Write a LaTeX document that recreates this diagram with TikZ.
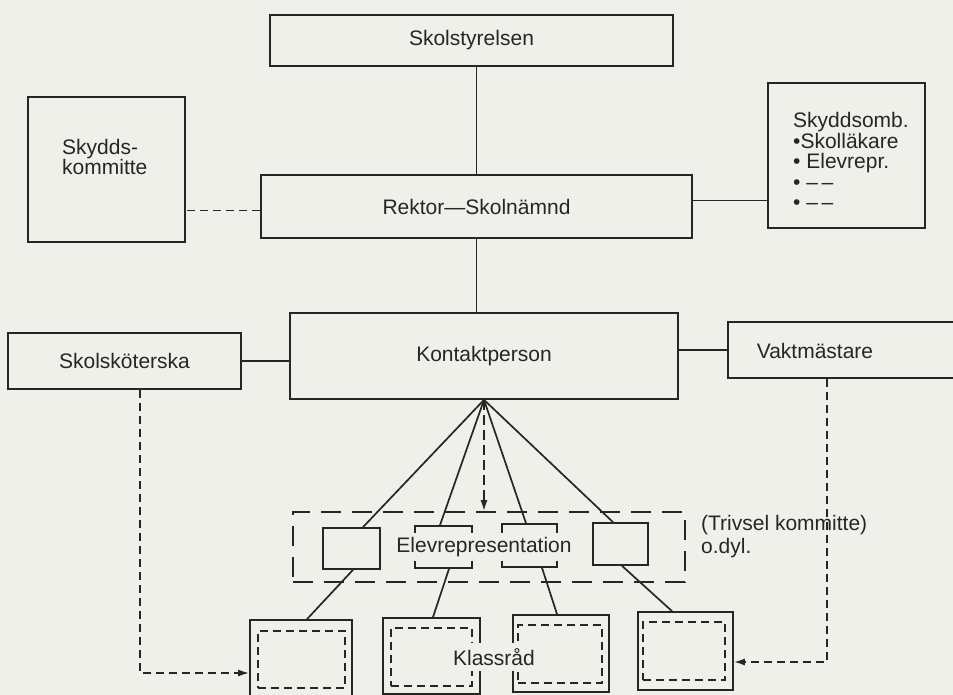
\documentclass[tikz,border=0pt]{standalone}
\usepackage{fontspec}
\setmainfont{Liberation Sans}
\usetikzlibrary{arrows.meta}
\definecolor{paper}{RGB}{240,240,234}
\definecolor{ink}{RGB}{38,38,38}
\begin{document}
\begin{tikzpicture}[x=1pt,y=-1pt,line width=1.7pt,color=ink,>={Latex[length=11pt,width=7pt]},
  every node/.style={font=\fontsize{21}{20.5}\selectfont},
  box/.style={draw,inner sep=0pt},
  boxin/.style={draw,inner sep=0pt,line width=1.5pt,dash pattern=on 8pt off 5pt},
  link/.style={dash pattern=on 8pt off 5pt},
  frame/.style={draw,inner sep=0pt,dash pattern=on 20pt off 11pt},
  mask/.style={fill=paper,inner xsep=2pt,inner ysep=0pt}]
  \useasboundingbox (0,0) rectangle (953,695);
  \fill[paper] (0,0) rectangle (953,695);
  \node[box,minimum width=403pt,minimum height=51pt] (styr) at (471.5,40.5) {Skolstyrelsen};
  \node[box,minimum width=431pt,minimum height=63pt] (rektor) at (476.5,206.5) {Rektor—Skolnämnd};
  \node[box,minimum width=157pt,minimum height=145pt] (skydd) at (106.5,169.5) {};
  \node[anchor=west,align=left] (skyddtxt) at (58,157) {Skydds-\\kommitte};
  \node[box,minimum width=157pt,minimum height=145pt] (somb) at (846.5,155.5) {};
  \node[anchor=west,align=left] (sombtxt) at (789,161) {Skyddsomb.\\•Skolläkare\\• Elevrepr.\\• –\,–\\• –\,–};
  \node[box,minimum width=388pt,minimum height=86pt] (kontakt) at (484,356) {Kontaktperson};
  \node[box,minimum width=233pt,minimum height=56pt] (skol) at (124.5,361) {Skolsköterska};
  \node[box,minimum width=232pt,minimum height=56pt] (vakt) at (844,350) {};
  \node (vakttxt) at (815,351) {Vaktmästare};
  \node[frame,minimum width=392pt,minimum height=70pt] (elevgrp) at (489,547) {};
  \node[box,minimum width=57pt,minimum height=41pt] (repa) at (351.5,548.5) {};
  \node[box,minimum width=57pt,minimum height=42pt] (repb) at (443.5,547) {};
  \node[box,minimum width=55pt,minimum height=43pt] (repc) at (529.5,545.5) {};
  \node[box,minimum width=55pt,minimum height=42pt] (repd) at (620.5,544) {};
  \node[mask,minimum height=28pt] (elevtxt) at (484,547) {Elevrepresentation};
  \node[anchor=west,align=left,font=\fontsize{21}{23}\selectfont] (trivsel) at (697,537) {(Trivsel kommitte)\\o.dyl.};
  \node[box,minimum width=102pt,minimum height=80pt] (ka) at (301,660) {};
  \node[box,minimum width=97pt,minimum height=76pt] (kb) at (431.5,656) {};
  \node[box,minimum width=96pt,minimum height=77pt] (kc) at (561,653.5) {};
  \node[box,minimum width=95pt,minimum height=78pt] (kd) at (685.5,651) {};
  \node[boxin,minimum width=87pt,minimum height=57pt] (kain) at (301.5,659.5) {};
  \node[boxin,minimum width=81pt,minimum height=58pt] (kbin) at (431.5,657) {};
  \node[boxin,minimum width=84pt,minimum height=58pt] (kcin) at (560,654) {};
  \node[boxin,minimum width=82pt,minimum height=58pt] (kdin) at (684,651) {};
  \node[mask,inner ysep=5pt] (klasstxt) at (494,657) {Klassråd};
  \draw (rektor.north) -- (rektor.north |- styr.south);
  \draw (rektor.south) -- (rektor.south |- kontakt.north);
  \draw[link] ([yshift=-4pt]rektor.west) -- ([yshift=-4pt]rektor.west -| skydd.east);
  \draw ([yshift=6pt]rektor.east) -- ([yshift=6pt]rektor.east -| somb.west);
  \draw (skol.east) -- (skol.east -| kontakt.west);
  \draw (vakt.west) -- (vakt.west -| kontakt.east);
  \draw (kontakt.south) -- ([xshift=11.5pt]repa.north);
  \draw (kontakt.south) -- ([xshift=-3.5pt]repb.north);
  \draw (kontakt.south) -- ([xshift=-3.5pt]repc.north);
  \draw (kontakt.south) -- ([xshift=-7.5pt]repd.north);
  \draw[->,dash pattern=on 10pt off 5pt] (kontakt.south) -- (kontakt.south |- elevgrp.north);
  \draw ([xshift=1.5pt]repa.south) -- ([xshift=6pt]ka.north);
  \draw ([xshift=5.5pt]repb.south) -- ([xshift=1.5pt]kb.north);
  \draw ([xshift=12.5pt]repc.south) -- ([xshift=-4pt]kc.north);
  \draw ([xshift=1.5pt]repd.south) -- ([xshift=-13.5pt]kd.north);
  \draw[->,link] ([xshift=15.5pt]skol.south) |- ([yshift=-13pt]ka.west);
  \draw[->,link] ([xshift=-17pt]vakt.south) |- ([yshift=-11pt]kd.east);
\end{tikzpicture}
\end{document}
